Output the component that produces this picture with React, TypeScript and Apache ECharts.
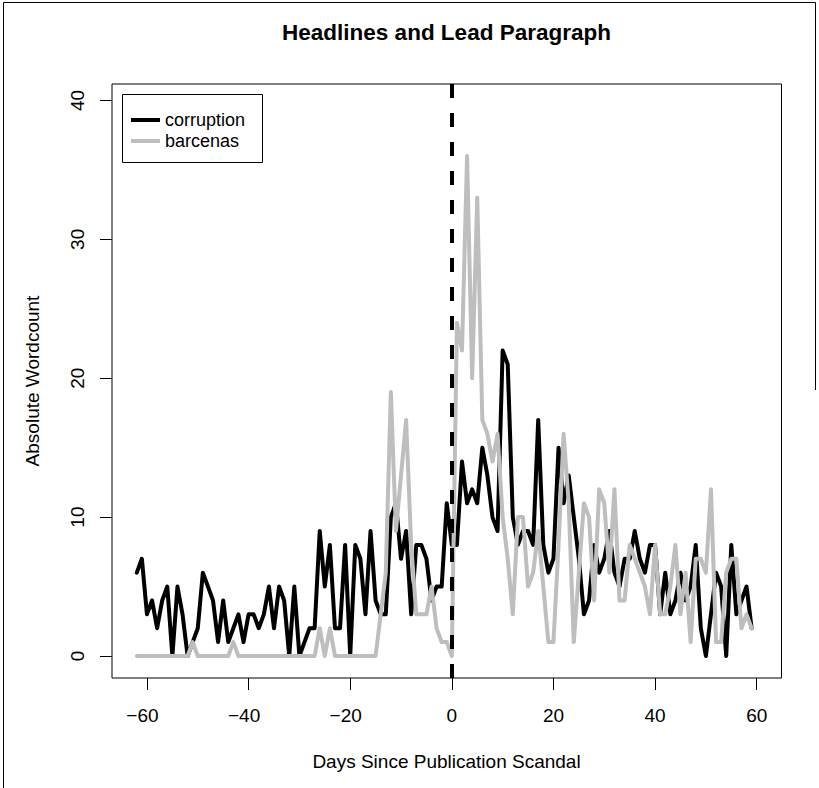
import React, { useEffect, useRef } from "react";
import * as echarts from "echarts";

const startDay = -62;
const seriesNames = ["corruption", "barcenas"];
// daily values from day -62 to day 59
const corruption = [
  6, 7, 3, 4, 2, 4, 5, 0, 5, 3, 0, 1, 2, 6, 5, 4, 1, 4, 1, 2,
  3, 1, 3, 3, 2, 3, 5, 2, 5, 4, 0, 5, 0, 1, 2, 2, 9, 5, 8, 2,
  2, 8, 0, 8, 7, 3, 9, 4, 3, 3, 10, 11, 7, 9, 3, 8, 8, 7, 4, 5,
  5, 11, 8, 8, 14, 11, 12, 11, 15, 13, 10, 9, 22, 21, 10, 8, 9, 9, 8, 17,
  8, 6, 7, 15, 11, 13, 10, 7, 3, 4, 8, 6, 7, 9, 6, 5, 7, 7, 9, 7,
  6, 8, 8, 3, 6, 3, 4, 6, 4, 5, 8, 2, 0, 3, 6, 5, 0, 8, 3, 4,
  5, 2,
];
const barcenas = [
  0, 0, 0, 0, 0, 0, 0, 0, 0, 0, 0, 1, 0, 0, 0, 0, 0, 0, 0, 1,
  0, 0, 0, 0, 0, 0, 0, 0, 0, 0, 0, 0, 0, 0, 0, 0, 2, 0, 2, 0,
  0, 0, 0, 0, 0, 0, 0, 0, 3, 6, 19, 9, 13, 17, 8, 3, 3, 3, 5, 2,
  1, 1, 0, 24, 22, 36, 20, 33, 17, 16, 14, 16, 10, 7, 3, 10, 10, 5, 6, 9,
  5, 1, 1, 8, 16, 11, 1, 6, 11, 10, 4, 12, 11, 6, 12, 4, 4, 8, 7, 6,
  5, 3, 8, 3, 3, 5, 8, 3, 6, 1, 7, 7, 6, 12, 1, 1, 6, 7, 7, 2,
  3, 2,
];
const xTicks = [-60, -40, -20, 0, 20, 40, 60];
const yTicks = [0, 10, 20, 30, 40];
const titleText = "Headlines and Lead Paragraph";
const xTitle = "Days Since Publication Scandal";
const yTitle = "Absolute Wordcount";

const FONT = "'Liberation Sans', Arial, Helvetica, sans-serif";

export default function App() {
  const ref = useRef<HTMLDivElement>(null);
  useEffect(() => {
    if (!ref.current) return;
    const chart = echarts.init(ref.current, null, { renderer: "svg" });
    const days = corruption.map((_, i) => startDay + i);
    const pairs = (vals: number[]) => vals.map((v, i) => [days[i], v]);
    const fmt = (v: number) => (v < 0 ? "{n|\u2212" + Math.abs(v) + "}" : String(v));
    chart.setOption({
      animation: false,
      backgroundColor: "#ffffff",
      grid: {
        left: 112,
        right: 37.5,
        top: 84,
        bottom: 110,
        show: true,
        borderColor: "#000",
        borderWidth: 1,
        backgroundColor: "transparent",
      },
      xAxis: {
        type: "value",
        min: -66.88,
        max: 64.88,
        axisLine: { show: false, onZero: false },
        splitLine: { show: false },
        axisTick: { show: true, customValues: xTicks, length: 12, lineStyle: { color: "#000", width: 1 } },
        axisLabel: {
          customValues: xTicks,
          margin: 28,
          fontSize: 19,
          color: "#000",
          fontFamily: FONT,
          formatter: fmt,
          rich: { n: { fontSize: 19, color: "#000", fontFamily: FONT, padding: [0, 9, 0, 0] } },
        },
      },
      yAxis: {
        type: "value",
        min: -1.584,
        max: 41.184,
        axisLine: { show: false, onZero: false },
        splitLine: { show: false },
        axisTick: { show: true, customValues: yTicks, length: 12, lineStyle: { color: "#000", width: 1 } },
        axisLabel: { customValues: yTicks, margin: 25, rotate: 90, fontSize: 19, color: "#000", fontFamily: FONT },
      },
      legend: {
        data: seriesNames,
        orient: "vertical",
        left: 131,
        top: 109.5,
        padding: 0,
        icon: "rect",
        itemWidth: 29,
        itemHeight: 4,
        itemGap: 0,
        textStyle: { fontSize: 18, lineHeight: 21, color: "#000", fontFamily: FONT },
      },
      graphic: [
        {
          type: "polyline",
          z: -10,
          shape: { points: [[3.5, 800], [3.5, 2.5], [815.5, 2.5], [815.5, 390]] },
          style: { fill: "none", stroke: "#000", lineWidth: 1 },
        },
        { type: "rect", z: 0, shape: { x: 122.5, y: 94.5, width: 140, height: 68 }, style: { fill: "#fff", stroke: "#000", lineWidth: 1 } },
        {
          type: "text",
          x: 446.5,
          y: 32,
          style: { text: titleText, textAlign: "center", textVerticalAlign: "middle", font: `bold 22.5px ${FONT}`, fill: "#000" },
        },
        {
          type: "text",
          x: 446.5,
          y: 761,
          style: { text: xTitle, textAlign: "center", textVerticalAlign: "middle", font: `19px ${FONT}`, fill: "#000" },
        },
        {
          type: "text",
          x: 32,
          y: 381,
          rotation: Math.PI / 2,
          style: { text: yTitle, textAlign: "center", textVerticalAlign: "middle", font: `19px ${FONT}`, fill: "#000" },
        },
      ],
      series: [
        {
          name: seriesNames[0],
          type: "line",
          data: pairs(corruption),
          symbol: "none",
          color: "#000",
          lineStyle: { color: "#000", width: 4, join: "round", cap: "round" },
          z: 3,
          markLine: {
            silent: true,
            symbol: "none",
            label: { show: false },
            lineStyle: { color: "#000", width: 4, type: [14, 15] },
            data: [{ xAxis: 0 }],
          },
        },
        {
          name: seriesNames[1],
          type: "line",
          data: pairs(barcenas),
          symbol: "none",
          color: "#bebebe",
          lineStyle: { color: "#bebebe", width: 4, join: "round", cap: "round" },
          z: 4,
        },
      ],
    });
    return () => chart.dispose();
  }, []);
  return <div ref={ref} style={{ position: "fixed", left: 0, top: 0, width: 819, height: 788 }} />;
}
